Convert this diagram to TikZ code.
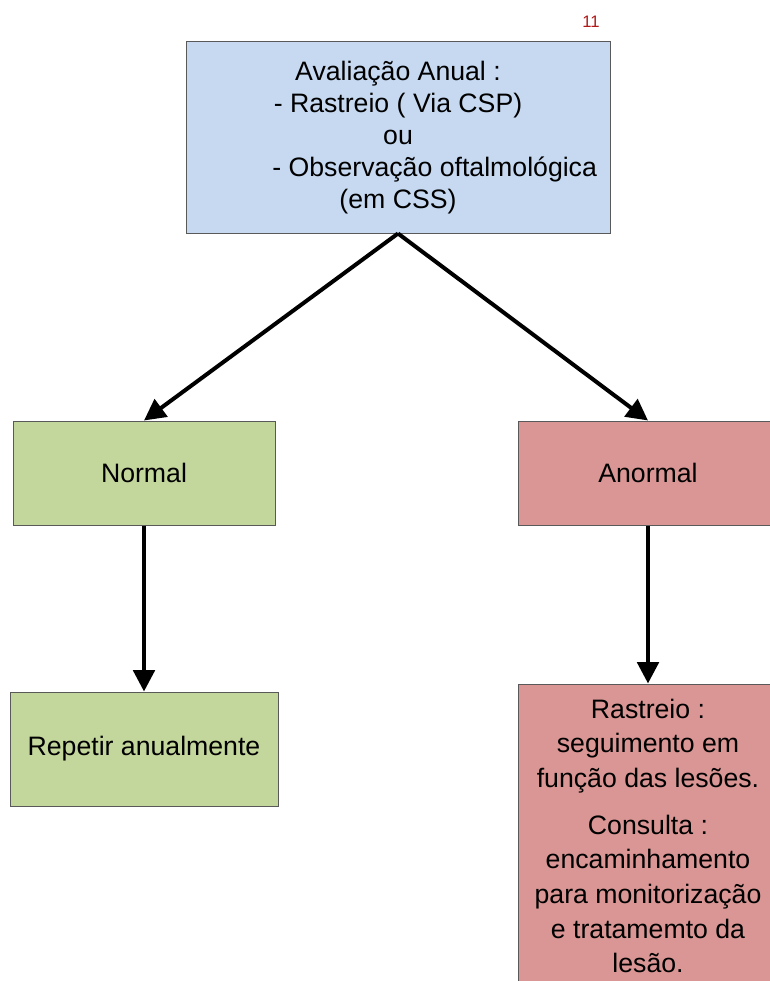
\documentclass[tikz,border=0pt]{standalone}
\usepackage{fontspec}
\setmainfont{Liberation Sans}
\usetikzlibrary{arrows.meta}
\tikzset{>={Triangle[width=16pt,length=16pt]}}
\definecolor{boxblue}{RGB}{198,217,241}
\definecolor{boxgreen}{RGB}{195,214,155}
\definecolor{boxred}{RGB}{217,150,148}
\definecolor{pagered}{RGB}{175,25,25}

\begin{document}
\begin{tikzpicture}[x=0.75pt, y=-0.75pt, box/.style={rectangle, draw=black!65, line width=0.75pt, inner sep=0pt, align=center, font=\fontsize{20}{24}\selectfont}, bluebox/.style={box, fill=boxblue}, greenbox/.style={box, fill=boxgreen}, redbox/.style={box, fill=boxred}, arrow/.style={->, line width=3pt}]

    \useasboundingbox (0,0) rectangle (770,981);

    %Nodes
    \node[font=\fontsize{12.5}{14}\selectfont, text=pagered](page) at (591,22){11};
    \node[bluebox, minimum width=318pt, minimum height=143.25pt](avaliacao) at (398,137.5){Avaliação Anual :\\- Rastreio ( Via CSP)\\ou\\\hspace*{55pt}- Observação oftalmológica\\(em CSS)};
    \node[greenbox, minimum width=196.5pt, minimum height=78pt](normal) at (144,473){Normal};
    \node[redbox, minimum width=195pt, minimum height=228pt, font=\fontsize{20}{26}\selectfont](rastreio) at (648,836){Rastreio :\\seguimento em\\função das lesões.\\[9pt]Consulta :\\encaminhamento\\para monitorização\\e tratamemto da\\lesão.};
    \node[redbox, minimum width=195pt, minimum height=78pt](anormal) at (648,473){Anormal};
    \node[greenbox, minimum width=201pt, minimum height=85.5pt](repetir) at (144,749){Repetir anualmente};

    %Lines
    \draw[arrow] (avaliacao.south) -- (normal.north);
    \draw[arrow] (avaliacao.south) -- (anormal.north);
    \draw[arrow] (normal.south) -- (repetir.north);
    \draw[arrow] (anormal.south) -- (rastreio.north);

\end{tikzpicture}
\end{document}
